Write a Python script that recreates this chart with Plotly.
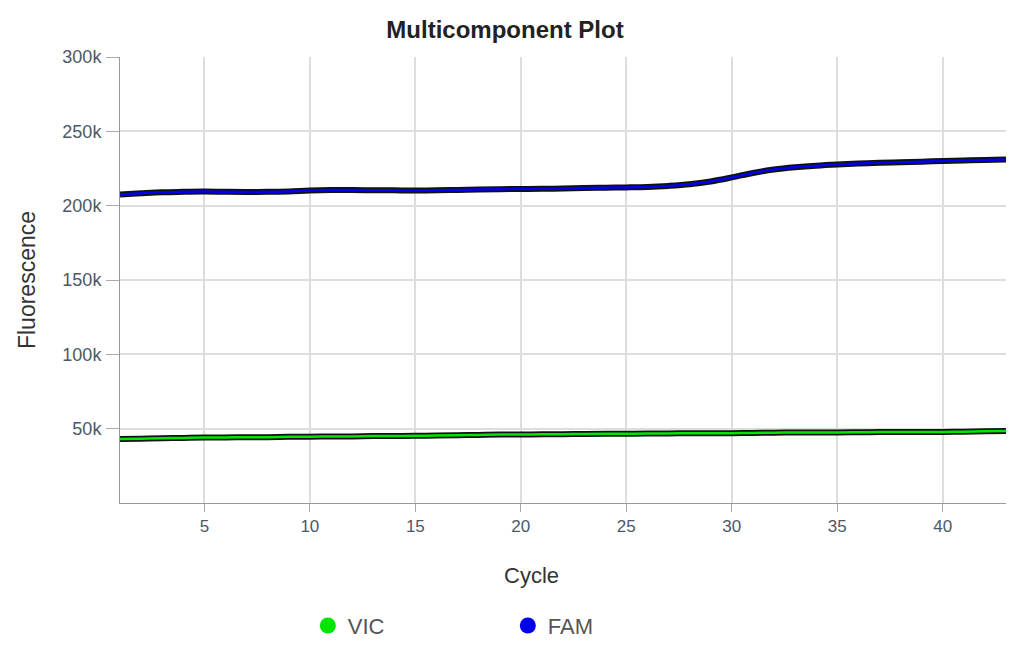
import plotly.graph_objects as go

cycles = list(range(1, 44))

fam_values = [207.5, 208.3, 209.0, 209.3, 209.5, 209.3, 209.2, 209.3, 209.6, 210.2,
              210.5, 210.5, 210.4, 210.3, 210.2, 210.3, 210.6, 210.9, 211.1, 211.2,
              211.3, 211.6, 211.9, 212.1, 212.3, 212.6, 213.3, 214.4, 216.3, 219.0,
              222.0, 224.3, 225.8, 226.9, 227.7, 228.3, 228.8, 229.2, 229.6, 230.0,
              230.4, 230.8, 231.0]
vic_values = [43.0, 43.3, 43.6, 43.8, 44.0, 44.1, 44.2, 44.3, 44.5, 44.6,
              44.7, 44.8, 45.0, 45.1, 45.2, 45.4, 45.6, 45.8, 46.0, 46.1,
              46.2, 46.3, 46.4, 46.5, 46.6, 46.7, 46.8, 46.9, 47.0, 47.0,
              47.1, 47.3, 47.4, 47.5, 47.5, 47.6, 47.7, 47.7, 47.7, 47.8,
              48.0, 48.2, 48.4]

fam = [v * 1000 for v in fam_values]
vic = [v * 1000 for v in vic_values]

series = [("VIC", vic, "#00e600"), ("FAM", fam, "#0000ee")]
x_ticks = [5, 10, 15, 20, 25, 30, 35, 40]
y_ticks = [50000, 100000, 150000, 200000, 250000, 300000]
y_tick_labels = ["50k", "100k", "150k", "200k", "250k", "300k"]

fig = go.Figure()
for name, vals, color in series:
    fig.add_trace(go.Scatter(x=cycles, y=vals, mode="lines", showlegend=False,
                             line=dict(color="#111111", width=6, shape="spline"),
                             hoverinfo="skip"))
    fig.add_trace(go.Scatter(x=cycles, y=vals, mode="lines", showlegend=False, name=name,
                             line=dict(color=color, width=2.5, shape="spline")))
for name, vals, color in series:
    fig.add_trace(go.Scatter(x=[None], y=[None], mode="markers", name=name,
                             marker=dict(color=color, size=16, symbol="circle")))

font_family = "Liberation Sans, Arial, sans-serif"
fig.update_layout(
    width=1010, height=652,
    margin=dict(l=120, r=4, t=57, b=149),
    paper_bgcolor="white", plot_bgcolor="white",
    font=dict(family=font_family),
    title=dict(text="<b>Multicomponent Plot</b>", x=0.5, xanchor="center",
               y=0.954, yanchor="middle", font=dict(size=24, color="#222222")),
    showlegend=True,
    legend=dict(orientation="h", x=0.212, xanchor="left", y=-0.228, yanchor="top",
                font=dict(size=22, color="#555555"), entrywidth=155,
                itemsizing="trace"),
    annotations=[dict(text="Cycle", xref="paper", yref="paper", x=0.465, y=-0.162,
                      xanchor="center", yanchor="middle", showarrow=False,
                      font=dict(size=22, color="#333333"))],
)
fig.update_xaxes(range=[1, 43], tickvals=x_ticks, ticks="outside", ticklen=8,
                 tickcolor="#aaaaaa", showline=True, linecolor="#999999", linewidth=1,
                 showgrid=True, gridcolor="#dddddd", gridwidth=1.5, zeroline=False,
                 tickfont=dict(size=17, color="#4a5868"))
fig.update_yaxes(range=[0, 300000], tickvals=y_ticks, ticktext=y_tick_labels,
                 ticks="outside", ticklen=13, tickcolor="#aaaaaa", ticklabelstandoff=1,
                 showline=True, linecolor="#999999", linewidth=1,
                 showgrid=True, gridcolor="#dddddd", gridwidth=1.5, zeroline=False,
                 tickfont=dict(size=18, color="#4a5868"),
                 title=dict(text="Fluorescence", font=dict(size=23, color="#333333"), standoff=20))

fig.write_html("out.html", config={"displayModeBar": False},
               post_script="document.body.style.margin='0';document.body.style.overflow='hidden';")
